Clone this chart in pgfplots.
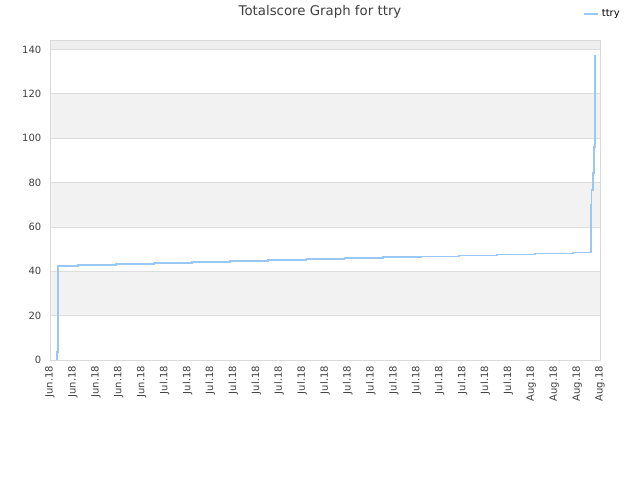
\documentclass[border=0pt]{standalone}
\usepackage{pgfplots}
\pgfplotsset{compat=1.18}
\usepackage{fontspec}
\setmainfont{DejaVu Sans}
\definecolor{linec}{HTML}{99C8F4}
\definecolor{band}{HTML}{F2F2F2}
\definecolor{topband}{HTML}{EEEEEE}
\definecolor{gridc}{HTML}{DDDDDD}
\definecolor{axc}{HTML}{DADADA}
\definecolor{txt}{HTML}{404040}
\begin{document}
\begin{tikzpicture}
\path (0,0) rectangle (480pt,360pt);
\begin{axis}[
  set layers,
  at={(37.5pt,90pt)}, anchor=south west,
  scale only axis, width=412.5pt, height=240pt,
  xmin=0, xmax=24, ymin=0, ymax=144.3,
  axis line style={axc, line width=0.75pt},
  ytick={0,20,40,60,80,100,120,140},
  xtick={0,1,...,24},
  xticklabels={Jun.18,Jun.18,Jun.18,Jun.18,Jun.18,Jul.18,Jul.18,Jul.18,Jul.18,Jul.18,Jul.18,Jul.18,Jul.18,Jul.18,Jul.18,Jul.18,Jul.18,Jul.18,Jul.18,Jul.18,Jul.18,Aug.18,Aug.18,Aug.18,Aug.18},
  x tick label style={rotate=90, anchor=east, xshift=-1pt, font=\fontsize{7.5}{9}\selectfont, text=txt},
  y tick label style={font=\fontsize{7.5}{9}\selectfont, text=txt, xshift=-3pt},
  /pgf/number format/assume math mode=true,
  major tick length=0pt,
  ymajorgrids, grid style={gridc, line width=0.6pt},
  legend style={at={(0.968,1.081)}, anchor=west, draw=none, fill=none, text=black, font=\fontsize{7.5}{9}\selectfont, inner sep=0pt},
  legend image code/.code={\draw[#1] (0pt,0pt) -- (7.5pt,0pt); \path (0pt,0pt) -- (11pt,0pt);},
]
\addplot[on layer=axis background, draw=none, fill=band, forget plot] coordinates {(0,20)(24,20)(24,40)(0,40)} -- cycle;
\addplot[on layer=axis background, draw=none, fill=band, forget plot] coordinates {(0,60)(24,60)(24,80)(0,80)} -- cycle;
\addplot[on layer=axis background, draw=none, fill=band, forget plot] coordinates {(0,100)(24,100)(24,120)(0,120)} -- cycle;
\addplot[on layer=axis background, draw=none, fill=topband, forget plot] coordinates {(0,140)(24,140)(24,144.3)(0,144.3)} -- cycle;
\addplot[linec, line width=1.4pt, sharp plot] coordinates {
(0.32,0) (0.32,3.7) (0.35,3.7) (0.35,42.3)
(1.224,42.3) (1.224,42.74)
(2.885,42.74) (2.885,43.18)
(4.546,43.18) (4.546,43.62)
(6.208,43.62) (6.208,44.06)
(7.869,44.06) (7.869,44.5)
(9.530,44.5) (9.530,44.94)
(11.191,44.94) (11.191,45.38)
(12.852,45.38) (12.852,45.82)
(14.514,45.82) (14.514,46.26)
(16.175,46.26) (16.175,46.7)
(17.836,46.7) (17.836,47.14)
(19.497,47.14) (19.497,47.58)
(21.158,47.58) (21.158,48.02)
(22.820,48.02) (22.820,48.46)
(23.59,48.46) (23.59,69.9)
(23.63,69.9) (23.63,76.7)
(23.68,76.7) (23.68,84.5)
(23.72,84.5) (23.72,95.9)
(23.77,95.9) (23.77,137.6)
};
\addlegendentry{ttry}
\end{axis}
\node[text=txt, font=\fontsize{10}{12}\selectfont] at (240pt,351pt) {Totalscore Graph for ttry};
\end{tikzpicture}
\end{document}
